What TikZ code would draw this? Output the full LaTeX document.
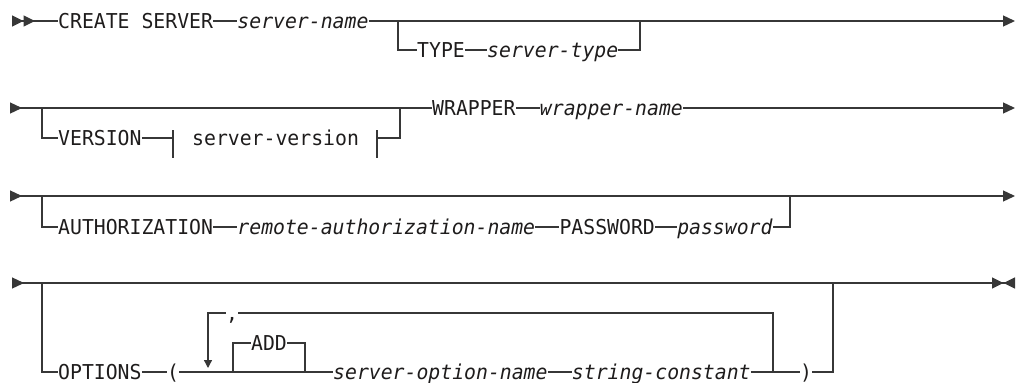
\documentclass[tikz,border=0pt]{standalone}
\usepackage{fontspec}
\setmainfont{DejaVu Sans Mono}[FakeStretch=0.965]
\usetikzlibrary{arrows.meta,positioning}
\definecolor{railgray}{RGB}{55,55,55}
\definecolor{inkgray}{RGB}{30,28,28}

\begin{document}
\begin{tikzpicture}[
    x=1pt, y=-1pt,
    kw/.style={inner sep=0pt, text height=14.9pt, text depth=0pt, text=inkgray, font=\fontsize{20.5}{22}\selectfont},
    var/.style={kw, font=\fontsize{20.5}{22}\selectfont\itshape},
    rail/.style={draw=railgray, line width=1.3pt},
    railstart/.style={rail, {Triangle[reversed,length=11.5pt,width=11pt]Triangle[reversed,length=11.5pt,width=11pt]}-},
    railin/.style={rail, {Triangle[reversed,length=12pt,width=11pt]}-},
    railout/.style={rail, -{Triangle[length=12pt,width=11pt]}},
    railcont/.style={rail, {Triangle[reversed,length=12pt,width=11pt]}-{Triangle[length=12pt,width=11pt]}},
    railend/.style={rail, {Triangle[reversed,length=12pt,width=11pt]}-{Triangle[length=11.5pt,width=11pt]Triangle[reversed,length=11.5pt,width=11pt]}},
    railloop/.style={rail, -{Triangle[length=8pt,width=8pt]}}
]
    \useasboundingbox (0,0) rectangle (1018,383);

    % row 1
    \coordinate (s1) at (12,21);
    \coordinate (e1) at (1015,21);
    \coordinate (b1l) at (398,21);
    \coordinate (b1r) at (640,21);
    \node[kw, anchor=west] (create) at (58,21) {CREATE SERVER};
    \node[var, right=24pt of create] (sname) {server-name};
    \node[kw, anchor=west] (type) at (417,50) {TYPE};
    \node[var, right=22pt of type] (stype) {server-type};

    \draw[railstart] (s1) -- (create.west);
    \draw[rail] (create) -- (sname);
    \draw[railout] (sname.east) -- (e1);
    \draw[rail] (b1l) |- (type.west);
    \draw[rail] (type) -- (stype);
    \draw[rail] (stype.east) -| (b1r);

    % row 2
    \coordinate (s2) at (10,108);
    \coordinate (e2) at (1015,108);
    \coordinate (b2l) at (42,108);
    \coordinate (b2r) at (400,108);
    \coordinate (fragl) at (173,138);
    \coordinate (fragr) at (377,138);
    \node[kw, anchor=west] (version) at (58,138) {VERSION};
    \node[kw, anchor=west] (sversion) at (192,138) {server-version};
    \node[kw, anchor=west] (wrapper) at (432,108) {WRAPPER};
    \node[var, right=24pt of wrapper] (wname) {wrapper-name};

    \draw[railin] (s2) -- (wrapper.west);
    \draw[rail] (wrapper) -- (wname);
    \draw[railout] (wname.east) -- (e2);
    \draw[rail] (b2l) |- (version.west);
    \draw[rail] (version) -- (fragl);
    \draw[rail] ([yshift=8pt]fragl) -- ([yshift=-20pt]fragl);
    \draw[rail] ([yshift=8pt]fragr) -- ([yshift=-20pt]fragr);
    \draw[rail] (fragr) -| (b2r);

    % row 3
    \coordinate (s3) at (10,196);
    \coordinate (e3) at (1015,196);
    \coordinate (b3l) at (42,196);
    \coordinate (b3r) at (790,196);
    \node[kw, anchor=west] (auth) at (58,227) {AUTHORIZATION};
    \node[var, right=24pt of auth] (rauth) {remote-authorization-name};
    \node[kw, right=24pt of rauth] (passkw) {PASSWORD};
    \node[var, right=22pt of passkw] (pwd) {password};

    \draw[railcont] (s3) -- (e3);
    \draw[rail] (b3l) |- (auth.west);
    \draw[rail] (auth) -- (rauth);
    \draw[rail] (rauth) -- (passkw);
    \draw[rail] (passkw) -- (pwd);
    \draw[rail] (pwd.east) -| (b3r);

    % row 4
    \coordinate (s4) at (12,283);
    \coordinate (e4) at (1015,283);
    \coordinate (b4l) at (42,283);
    \coordinate (b4r) at (833,283);
    \coordinate (addl) at (233,372);
    \coordinate (addr) at (305,372);
    \coordinate (loopr) at (773,372);
    \coordinate (looparr) at (208,368);
    \node[kw, anchor=west] (options) at (58,372) {OPTIONS};
    \node[kw, anchor=west] (lparen) at (167,372) {(};
    \node[kw] (add) at (269,343) {ADD};
    \node[var, anchor=west] (soname) at (333,372) {server-option-name};
    \node[var, right=24pt of soname] (sconst) {string-constant};
    \node[kw] (rparen) at (806,372) {)};
    \node[kw] (comma) at (232,313) {,};

    \draw[railend] (s4) -- (e4);
    \draw[rail] (b4l) |- (options.west);
    \draw[rail] (options) -- (lparen);
    \draw[rail] (lparen) -- (soname);
    \draw[rail] (addl) |- (add.west);
    \draw[rail] (add.east) -| (addr);
    \draw[rail] (soname) -- (sconst);
    \draw[rail] (sconst) -- (rparen);
    \draw[rail] (loopr) |- (comma.east);
    \draw[railloop] (comma.west) -| (looparr);
    \draw[rail] (rparen.east) -| (b4r);
\end{tikzpicture}
\end{document}
